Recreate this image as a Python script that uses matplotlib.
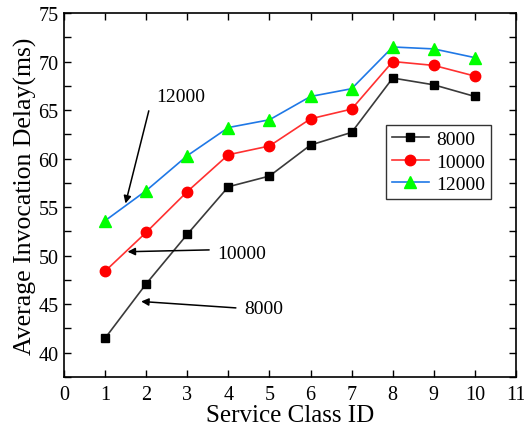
import matplotlib
matplotlib.use("Agg")
import matplotlib.pyplot as plt
from matplotlib.ticker import MultipleLocator

plt.rcParams["font.family"] = ["Liberation Serif", "DejaVu Serif"]
plt.rcParams["mathtext.fontset"] = "stix"

service_class = [1, 2, 3, 4, 5, 6, 7, 8, 9, 10]
delay_8000 = [41.5, 47.1, 52.2, 57.1, 58.2, 61.4, 62.7, 68.3, 67.6, 66.4]
delay_10000 = [48.4, 52.4, 56.6, 60.4, 61.3, 64.1, 65.1, 70.0, 69.6, 68.5]
delay_12000 = [53.6, 56.7, 60.3, 63.2, 64.0, 66.4, 67.2, 71.5, 71.3, 70.4]
series_labels = ["8000", "10000", "12000"]

fig = plt.figure(figsize=(5.24, 4.35), dpi=100)
ax = fig.add_axes([64 / 524, 1 - 378 / 435, 452 / 524, 364 / 435])

ax.plot(service_class, delay_8000, color="#3a3a3a", lw=1.2, marker="s", ms=6,
        mfc="black", mec="black", label=series_labels[0])
ax.plot(service_class, delay_10000, color="#ff3030", lw=1.2, marker="o", ms=7.5,
        mfc="red", mec="red", label=series_labels[1])
ax.plot(service_class, delay_12000, color="#1f78e6", lw=1.2, marker="^", ms=8,
        mfc="#00ff00", mec="#00ff00", label=series_labels[2])

ax.set_xlim(0, 11)
ax.set_ylim(37.5, 75)
ax.xaxis.set_major_locator(MultipleLocator(1))
ax.yaxis.set_major_locator(MultipleLocator(5))
ax.yaxis.set_minor_locator(MultipleLocator(2.5))
ax.tick_params(which="both", direction="in", top=True, right=True, labelsize=14.5)
ax.tick_params(which="major", length=5, width=1)
ax.tick_params(which="minor", length=5, width=1)
ax.tick_params(axis="x", pad=6)
ax.tick_params(axis="y", pad=4)
for s in ax.spines.values():
    s.set_linewidth(1.2)

ax.set_xlabel("Service Class ID", fontsize=18, labelpad=0)
ax.set_ylabel("Average Invocation Delay(ms)", fontsize=18.5, labelpad=1)

arrow = dict(arrowstyle="-|>", color="black", lw=1.1, mutation_scale=11)
ax.annotate("", xy=(1.48, 55.1), xytext=(2.08, 65.2), arrowprops=arrow)
ax.text(2.25, 66.4, "12000", fontsize=14, va="center", ha="left")
ax.annotate("", xy=(1.48, 50.4), xytext=(3.6, 50.6), arrowprops=arrow)
ax.text(3.72, 50.2, "10000", fontsize=14, va="center", ha="left")
ax.annotate("", xy=(1.81, 45.3), xytext=(4.25, 44.6), arrowprops=arrow)
ax.text(4.38, 44.6, "8000", fontsize=14, va="center", ha="left")

leg = ax.legend(loc="upper right", bbox_to_anchor=(0.967, 0.72), fontsize=14,
                frameon=True, fancybox=False, edgecolor="black", handlelength=1.9,
                borderpad=0.3, labelspacing=0.25, handletextpad=0.4)
leg.get_frame().set_linewidth(1.0)

fig.savefig("out.png", dpi=100)
